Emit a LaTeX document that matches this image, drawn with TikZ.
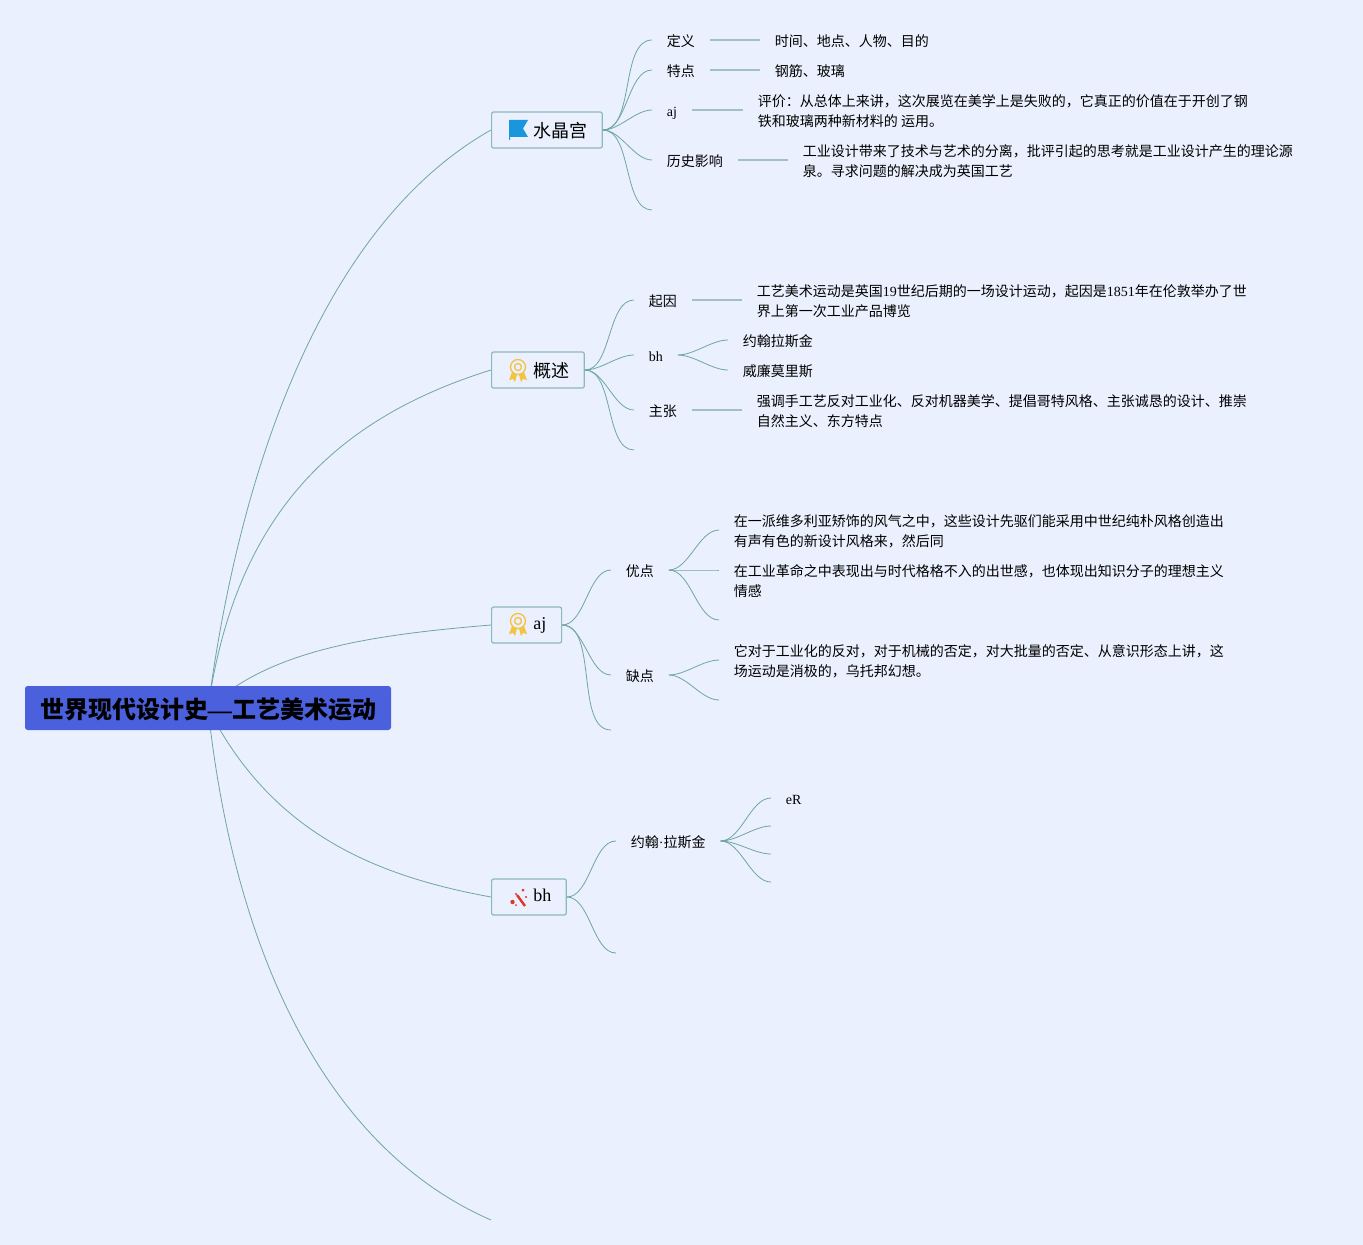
\documentclass[tikz,border=0pt]{standalone}
\usepackage{fontspec}
\setmainfont{Noto Sans CJK SC}
\newfontfamily\latin{Liberation Serif}
\usetikzlibrary{backgrounds}
\definecolor{pagebg}{HTML}{EAF0FD}
\definecolor{curvecol}{HTML}{6FA5A5}
\definecolor{stemcol}{HTML}{A0C0C6}
\definecolor{boxline}{HTML}{8CB8BE}
\definecolor{rootfill}{HTML}{4A60DC}
\definecolor{medalcol}{HTML}{F5C344}
\definecolor{flagcol}{HTML}{1A96DC}
\definecolor{wandcol}{HTML}{E0352B}
\newcommand{\la}[1]{{\latin #1}}
\newcommand{\cm}{\char"FF0C\relax}
\newcommand{\cl}{\char"FF1A\relax}
\tikzset{
  rootnode/.style={fill=rootfill,rounded corners=2pt,minimum width=274.5pt,minimum height=33pt,inner sep=0pt,text height=17pt,text depth=1.2pt,font=\fontsize{18}{22}\selectfont\bfseries},
  topic/.style={draw=boxline,fill=pagebg,line width=0.9pt,rounded corners=1.5pt,anchor=west,minimum height=27pt,inner sep=0pt},
  topictext/.style={anchor=west,inner sep=0pt,font=\fontsize{13.5}{16}\selectfont},
  leaf/.style={anchor=west,inner xsep=11pt,inner ysep=0pt,align=left,font=\fontsize{10.5}{15}\selectfont},
  short/.style={leaf,text height=10.5pt,text depth=1pt},
  curve/.style={draw=curvecol,line width=0.6pt},
  stem/.style={draw=stemcol,line width=1pt},
  sbend/.style={out=0,in=180,looseness=0.8},
  medalicon/.pic={
    \draw[medalcol,line width=1pt] (0,0) circle (7.5);
    \draw[medalcol,line width=1pt] (0,0) circle (3.5);
    \fill[medalcol] (-6,5) -- (-9,13) -- (-5,12) -- (-3,15) -- (-1,7.5) -- cycle;
    \fill[medalcol] (6,5) -- (9,13) -- (5,12) -- (3,15) -- (1,7.5) -- cycle;
  }
}
\begin{document}
\begin{tikzpicture}[x=0.75pt,y=-0.75pt]
\useasboundingbox (0,0) rectangle (1363,1245);
% main nodes
\node[rootnode] (root) at (208,708) {世界现代设计史\la{—}工艺美术运动};
\node[topic,minimum width=83pt] (crystal) at (491,130) {};
\node[topic,minimum width=69.5pt] (outline) at (491,370) {};
\node[topic,minimum width=52.5pt] (aj) at (491,625) {};
\node[topic,minimum width=56pt] (bh) at (491,897) {};
\node[topictext] (crystaltext) at (533,131) {水晶宫};
\node[topictext] (outlinetext) at (533,371) {概述};
\node[topictext] (ajtext) at (533,625) {\la{aj}};
\node[topictext] (bhtext) at (533,895) {\la{bh}};
% icons
\fill[flagcol] (509,120) -- (528,120) -- (523,128.5) -- (528,137) -- (510,137) -- (510,140) -- (509,140) -- cycle;
\pic at (518,367) {medalicon};
\pic at (518,621) {medalicon};
\draw[wandcol,line width=1.8pt] (517,895) -- (525,906);
\fill[wandcol] (523,890) circle (1.5) (512.5,902) circle (2.2) (526,897) circle (1.2) (516,894) circle (1.2) (516,905) circle (1);
% crystal palace branch
\node[short] (def) at (652,40) {定义};
\node[short] (feat) at (652,70) {特点};
\node[short] (eval) at (652,110) {\la{aj}};
\node[short] (hist) at (652,160) {历史影响};
\coordinate (crystalend) at (652,210);
\node[short] (defv) at (760,40) {时间、地点、人物、目的};
\node[short] (featv) at (760,70) {钢筋、玻璃};
\node[leaf] (evalv) at (743,111.5) {评价\cl 从总体上来讲\cm 这次展览在美学上是失败的\cm 它真正的价值在于开创了钢\\铁和玻璃两种新材料的 运用。};
\node[leaf] (histv) at (788,161.5) {工业设计带来了技术与艺术的分离\cm 批评引起的思考就是工业设计产生的理论源\\泉。寻求问题的解决成为英国工艺};
% outline branch
\node[short] (cause) at (634,300) {起因};
\node[short] (obh) at (634,355) {\la{bh}};
\node[short] (claim) at (634,410) {主张};
\coordinate (outlineend) at (634,450);
\node[leaf] (causev) at (742,301.5) {工艺美术运动是英国\la{19}世纪后期的一场设计运动\cm 起因是\la{1851}年在伦敦举办了世\\界上第一次工业产品博览};
\node[short] (ruskin) at (728,340) {约翰拉斯金};
\node[short] (morris) at (728,370) {威廉莫里斯};
\node[leaf] (claimv) at (742,411.5) {强调手工艺反对工业化、反对机器美学、提倡哥特风格、主张诚恳的设计、推崇\\自然主义、东方特点};
% aj branch
\node[short] (pros) at (611,570) {优点};
\node[short] (cons) at (611,675) {缺点};
\coordinate (ajend) at (611,730);
\node[leaf] (prosa) at (719,531.5) {在一派维多利亚矫饰的风气之中\cm 这些设计先驱们能采用中世纪纯朴风格创造出\\有声有色的新设计风格来\cm 然后同};
\node[leaf] (prosb) at (719,581.5) {在工业革命之中表现出与时代格格不入的出世感\cm 也体现出知识分子的理想主义\\情感};
\coordinate (prosend) at (719,620);
\node[leaf] (consa) at (719,661.5) {它对于工业化的反对\cm 对于机械的否定\cm 对大批量的否定、从意识形态上讲\cm 这\\场运动是消极的\cm 乌托邦幻想。};
\coordinate (consend) at (719,700);
% bh branch
\node[short] (john) at (616,841) {约翰\la{·}拉斯金};
\coordinate (bhend) at (616,953);
\node[short] (er) at (771,798) {\la{eR}};
\coordinate (johnb) at (771,826);
\coordinate (johnc) at (771,854);
\coordinate (johnd) at (771,882);
\coordinate (lastend) at (491,1220);
% connectors
\begin{pgfonlayer}{background}
\fill[pagebg] (0,0) rectangle (1363,1245);
\draw[curve] (root.center) .. controls (245,430) and (340,215) .. (crystal.west);
\draw[curve] (root.center) .. controls (235,520) and (330,420) .. (outline.west);
\draw[curve] (root.center) .. controls (270,650) and (370,635) .. (aj.west);
\draw[curve] (root.center) .. controls (270,830) and (370,875) .. (bh.west);
\draw[curve] (root.center) .. controls (235,960) and (330,1150) .. (lastend);
\end{pgfonlayer}
\foreach \kid in {def,feat,eval,hist} \draw[curve] (crystal.east) to[sbend] (\kid.west);
\draw[curve] (crystal.east) to[sbend] (crystalend);
\foreach \kid in {cause,obh,claim} \draw[curve] (outline.east) to[sbend] (\kid.west);
\draw[curve] (outline.east) to[sbend] (outlineend);
\draw[curve] (obh.east) to[sbend] (ruskin.west);
\draw[curve] (obh.east) to[sbend] (morris.west);
\foreach \kid in {pros,cons} \draw[curve] (aj.east) to[sbend] (\kid.west);
\draw[curve] (aj.east) to[sbend] (ajend);
\draw[curve] (pros.east) to[sbend] ([yshift=1.1pt]prosa.west);
\draw[curve] (pros.east) to[sbend] (prosb.west |- pros.east);
\draw[curve] (pros.east) to[sbend] (prosend);
\draw[curve] (cons.east) to[sbend] ([yshift=1.1pt]consa.west);
\draw[curve] (cons.east) to[sbend] (consend);
\draw[curve] (bh.east) to[sbend] (john.west);
\draw[curve] (bh.east) to[sbend] (bhend);
\draw[curve] (john.east) to[sbend] (er.west);
\draw[curve] (john.east) to[sbend] (johnb);
\draw[curve] (john.east) to[sbend] (johnc);
\draw[curve] (john.east) to[sbend] (johnd);
\draw[stem] (def.east) -- (defv.west);
\draw[stem] (feat.east) -- (featv.west);
\draw[stem] (eval.east) -- (evalv.west |- eval.east);
\draw[stem] (hist.east) -- (histv.west |- hist.east);
\draw[stem] (cause.east) -- (causev.west |- cause.east);
\draw[stem] (claim.east) -- (claimv.west |- claim.east);
\end{tikzpicture}
\end{document}
